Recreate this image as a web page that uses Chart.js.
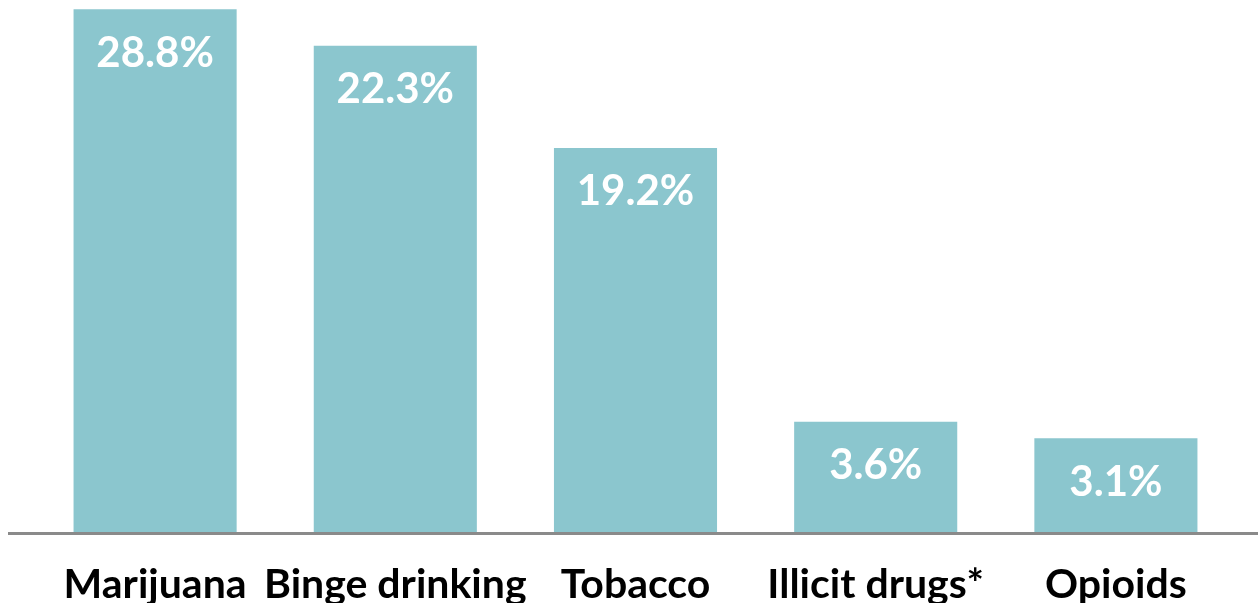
<!DOCTYPE html>
<html>
<head>
<meta charset="utf-8">
<script src="https://cdn.jsdelivr.net/npm/chart.js@4/dist/chart.umd.min.js"></script>
<style>
  html, body { margin: 0; padding: 0; background: #ffffff; }
  #wrap { width: 1258px; height: 603px; }
</style>
</head>
<body>
<div id="wrap"><canvas id="c" width="1258" height="603"></canvas></div>
<script>
// Categories and the percentages printed on the bars
const categories = ["Marijuana", "Binge drinking", "Tobacco", "Illicit drugs*", "Opioids"];
const percentLabels = [28.8, 22.3, 19.2, 3.6, 3.1];
// Bar heights as drawn in the picture (the source graphic is not to scale),
// read off the picture in the same units as the tallest bar
const drawnHeights = [28.8, 26.8, 21.2, 6.2, 5.3];

const barColor = "#8BC6CE";
const fontFamily = "Lato, 'Open Sans', 'Liberation Sans', sans-serif";

const valueLabelPlugin = {
  id: "valueLabels",
  afterDatasetsDraw(chart) {
    const ctx = chart.ctx;
    const meta = chart.getDatasetMeta(0);
    ctx.save();
    ctx.fillStyle = "#ffffff";
    ctx.font = "bold 42px " + fontFamily;
    ctx.textAlign = "center";
    ctx.textBaseline = "middle";
    meta.data.forEach((bar, i) => {
      ctx.fillText(percentLabels[i].toFixed(1) + "%", bar.x, bar.y + 44);
    });
    ctx.restore();
  }
};

const baselinePlugin = {
  id: "baseline",
  afterDatasetsDraw(chart) {
    const ctx = chart.ctx;
    const y = chart.scales.y.getPixelForValue(0);
    ctx.save();
    ctx.strokeStyle = "#8a8a8a";
    ctx.lineWidth = 3;
    ctx.beginPath();
    ctx.moveTo(8, y - 1.5);
    ctx.lineTo(chart.width, y - 1.5);
    ctx.stroke();
    ctx.restore();
  }
};

new Chart(document.getElementById("c"), {
  type: "bar",
  data: {
    labels: categories,
    datasets: [{
      data: drawnHeights,
      backgroundColor: barColor,
      borderWidth: 0,
      barPercentage: 0.679,
      categoryPercentage: 1.0
    }]
  },
  options: {
    responsive: false,
    animation: false,
    layout: { padding: { left: 35, right: 22, top: 0, bottom: 0 } },
    plugins: {
      legend: { display: false },
      tooltip: { enabled: false }
    },
    scales: {
      x: {
        grid: { display: false, drawTicks: false },
        border: { display: false },
        ticks: {
          color: "#000000",
          font: { family: fontFamily, size: 41, weight: "bold" },
          padding: 25,
          maxRotation: 0,
          autoSkip: false
        },
        afterFit(axis) { axis.height = 68; }
      },
      y: {
        display: false,
        min: 0,
        max: 29.3
      }
    }
  },
  plugins: [valueLabelPlugin, baselinePlugin]
});
</script>
</body>
</html>
